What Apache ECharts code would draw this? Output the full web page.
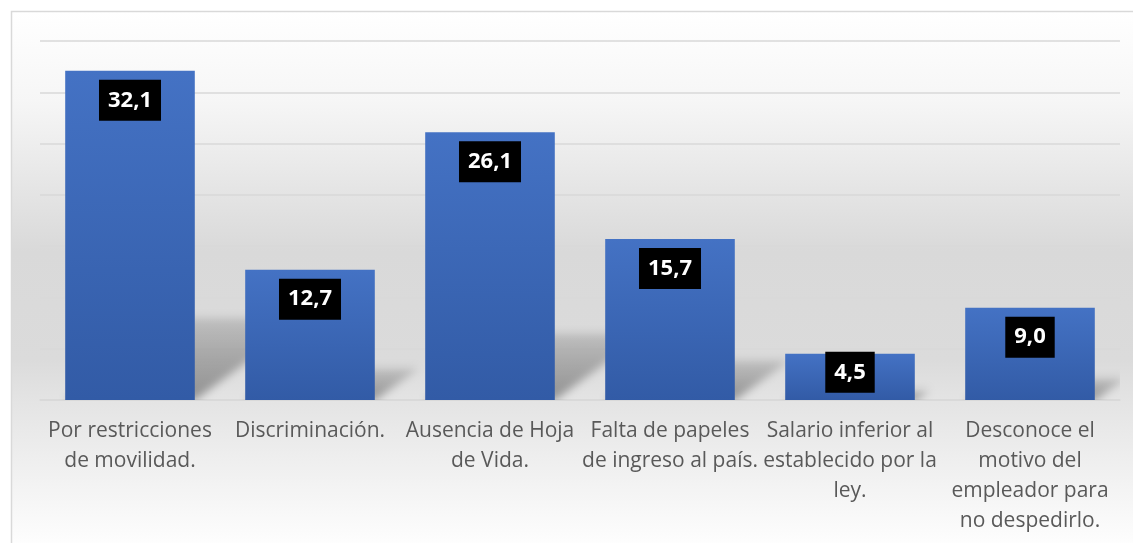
<!DOCTYPE html>
<html>
<head>
<meta charset="utf-8">
<script src="https://cdn.jsdelivr.net/npm/echarts@6/dist/echarts.min.js"></script>
<style>
  html, body { margin: 0; padding: 0; background: #fff; }
  #main { width: 1133px; height: 543px; }
</style>
</head>
<body>
<div id="main"></div>
<script>
// datos del grafico
var categories = [
  'Por restricciones\nde movilidad.',
  'Discriminación.',
  'Ausencia de Hoja\nde Vida.',
  'Falta de papeles\nde ingreso al país.',
  'Salario inferior al\nestablecido por la\nley.',
  'Desconoce el\nmotivo del\nempleador para\nno despedirlo.'
];
var values = [32.1, 12.7, 26.1, 15.7, 4.5, 9.0];
var axisMax = 35;
var axisStep = 5;

window.onload = function () {
  var font = '"Open Sans", Lato, sans-serif';
  var barRatio = 0.72;

  // the small bar keeps its label a bit above the top, as in the original
  var barData = values.map(function (v) {
    var item = { value: v };
    if (v < 6) {
      item.label = { distance: -2 };
    }
    return item;
  });

  var option = {
    backgroundColor: '#ffffff',
    animation: false,
    graphic: {
      elements: [{
        type: 'rect',
        z: -100,
        silent: true,
        shape: { x: 11.5, y: 11.5, width: 1200, height: 600 },
        style: {
          fill: new echarts.graphic.LinearGradient(0, 0, 0, 1, [
            { offset: 0, color: '#ffffff' },
            { offset: 0.15, color: '#f6f6f6' },
            { offset: 0.4, color: '#d9d9d9' },
            { offset: 0.58, color: '#dbdbdb' },
            { offset: 0.65, color: '#e4e4e4' },
            { offset: 0.9, color: '#ffffff' },
            { offset: 1, color: '#ffffff' }
          ]),
          stroke: '#d9d9d9',
          lineWidth: 1.5
        }
      }]
    },
    grid: { left: 40, right: 13, top: 41, bottom: 143 },
    xAxis: {
      type: 'category',
      data: categories,
      axisLine: { show: true, lineStyle: { color: '#d9d9d9', width: 1.5 } },
      axisTick: { show: false },
      axisLabel: {
        interval: 0,
        color: '#595959',
        fontFamily: font,
        fontSize: 21,
        lineHeight: 30,
        margin: 16
      }
    },
    yAxis: {
      type: 'value',
      min: 0,
      max: axisMax,
      interval: axisStep,
      axisLabel: { show: false },
      axisLine: { show: false },
      axisTick: { show: false },
      splitLine: { lineStyle: { color: '#d9d9d9', width: 1.5 } }
    },
    series: [
      {
        // sombra en perspectiva detras de cada barra
        type: 'custom',
        z: 1,
        clip: true,
        silent: true,
        data: values.map(function (v, i) { return [i, v]; }),
        renderItem: function (params, api) {
          var base = api.coord([api.value(0), 0]);
          var top = api.coord([api.value(0), api.value(1)]);
          var w = api.size([1, 0])[0] * barRatio;
          var h = base[1] - top[1];
          var x0 = base[0] - w / 2, x1 = base[0] + w / 2, y0 = base[1];
          var dx = h * 0.34, dy = h * 0.25;
          var off = 3000;
          return {
            type: 'polygon',
            x: -off,
            shape: { points: [[x0, y0], [x1, y0], [x1 + dx, y0 - dy], [x0 + dx, y0 - dy]] },
            style: {
              fill: new echarts.graphic.LinearGradient(0, 1, 0, 0, [
                { offset: 0, color: 'rgba(0,0,0,1)' },
                { offset: 1, color: 'rgba(0,0,0,0.35)' }
              ]),
              shadowBlur: 9,
              shadowColor: 'rgba(0,0,0,0.36)',
              shadowOffsetX: off
            }
          };
        }
      },
      {
        type: 'bar',
        z: 3,
        data: barData,
        barWidth: (barRatio * 100) + '%',
        itemStyle: {
          color: new echarts.graphic.LinearGradient(0, 0, 0, 1, [
            { offset: 0, color: '#4472c4' },
            { offset: 1, color: '#325ba6' }
          ])
        },
        label: {
          show: true,
          position: 'insideTop',
          distance: 9,
          color: '#ffffff',
          backgroundColor: '#000000',
          fontFamily: font,
          fontWeight: 'bold',
          fontSize: 22,
          lineHeight: 25,
          padding: [8, 9],
          formatter: function (p) {
            return p.value.toFixed(1).replace('.', ',');
          }
        }
      }
    ]
  };

  var chart = echarts.init(document.getElementById('main'));
  chart.setOption(option);
};
</script>
</body>
</html>
